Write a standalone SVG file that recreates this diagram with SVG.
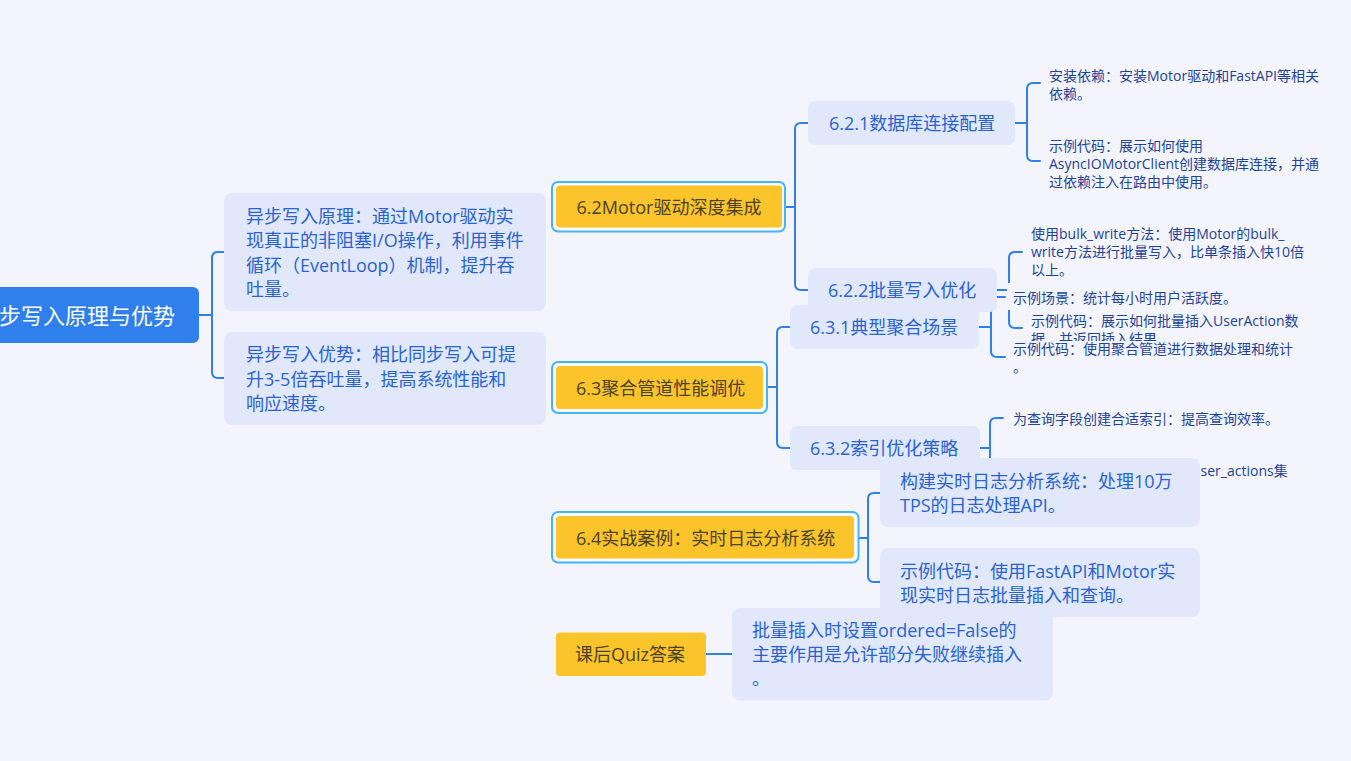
<svg xmlns="http://www.w3.org/2000/svg" width="1351" height="761" viewBox="0 0 1351 761">
<style>
text{font-family:"Open Sans","Noto Sans CJK SC","Noto Sans",sans-serif;dominant-baseline:central}
.con{fill:none;stroke:#2f80ed;stroke-width:2;stroke-linecap:round}
.root{fill:#2f80ec}
.rt{fill:#ffffff;font-size:22px}
.box{fill:#e1e8fc}
.bt{fill:#2a63d0;font-size:18px}
.out{fill:#f7fbff;stroke:#45b4f3;stroke-width:2}
.yel{fill:#fcc42b}
.yt{fill:#4b4228;font-size:18px}
.leafbg{fill:#f4f5fc}
.lt{fill:#22439a;font-size:14px}
</style>
<rect x="0" y="0" width="1351" height="761" fill="#f4f5fc"/>
<g id="connectors">
<path class="con" d="M199 315H212M224 252H218Q212 252 212 258V372Q212 378 218 378H224"/>
<path class="con" d="M786 207H795M808 123H801Q795 123 795 129V284Q795 290 801 290H808"/>
<path class="con" d="M1015 123H1027M1040 83H1033Q1027 83 1027 89V155Q1027 161 1033 161H1040"/>
<path class="con" d="M997 290H1009M1022 252H1015Q1009 252 1009 258V322Q1009 328 1015 328H1022"/>
<path class="con" d="M768 387H777M790 327H783Q777 327 777 333V442Q777 448 783 448H790"/>
<path class="con" d="M979 327H991M1005 297H997Q991 297 991 303V351Q991 357 997 357H1005"/>
<path class="con" d="M980 448H990M1003 418H996Q990 418 990 424V472Q990 478 996 478H1003"/>
<path class="con" d="M859 538H868M880 493H874Q868 493 868 499V576Q868 582 874 582H880"/>
<path class="con" d="M706 654H732"/>
</g>
<g id="root">
<rect class="root" x="-20" y="287" width="219" height="56" rx="6"/>
<text class="rt" x="175" y="315" text-anchor="end">异步写入原理与优势</text>
</g>
<g id="n-principle">
<rect class="box" x="224" y="193" width="322" height="118" rx="8"/>
<text class="bt" x="246" y="215.5">异步写入原理：通过Motor驱动实</text>
<text class="bt" x="246" y="240">现真正的非阻塞I/O操作，利用事件</text>
<text class="bt" x="246" y="264.5">循环（EventLoop）机制，提升吞</text>
<text class="bt" x="246" y="289">吐量。</text>
</g>
<g id="n-advantage">
<rect class="box" x="224" y="332" width="322" height="93" rx="8"/>
<text class="bt" x="246" y="354">异步写入优势：相比同步写入可提</text>
<text class="bt" x="246" y="378.5">升3-5倍吞吐量，提高系统性能和</text>
<text class="bt" x="246" y="403">响应速度。</text>
</g>
<g id="n-6-2">
<rect class="out" x="552" y="182" width="233" height="49.5" rx="6"/>
<rect class="yel" x="556" y="185.5" width="226" height="42" rx="4"/>
<text class="yt" x="669" y="207" text-anchor="middle">6.2Motor驱动深度集成</text>
</g>
<g id="n-6-2-1">
<rect class="box" x="808" y="101" width="207" height="44" rx="7"/>
<text class="bt" x="829" y="123">6.2.1数据库连接配置</text>
</g>
<g id="l-6-2-1-a">
<rect class="leafbg" x="1043" y="64" width="290" height="40"/>
<text class="lt" x="1049" y="75">安装依赖：安装Motor驱动和FastAPI等相关</text>
<text class="lt" x="1049" y="93">依赖。</text>
</g>
<g id="l-6-2-1-b">
<rect class="leafbg" x="1043" y="134" width="290" height="58"/>
<text class="lt" x="1049" y="145">示例代码：展示如何使用</text>
<text class="lt" x="1049" y="163">AsyncIOMotorClient创建数据库连接，并通</text>
<text class="lt" x="1049" y="181">过依赖注入在路由中使用。</text>
</g>
<g id="n-6-2-2">
<rect class="box" x="808" y="268" width="189" height="44" rx="7"/>
<text class="bt" x="828" y="290">6.2.2批量写入优化</text>
</g>
<g id="l-6-2-2-a">
<text class="lt" x="1031" y="233">使用bulk_write方法：使用Motor的bulk_</text>
<text class="lt" x="1031" y="251">write方法进行批量写入，比单条插入快10倍</text>
<text class="lt" x="1031" y="269">以上。</text>
</g>
<g id="l-6-2-2-b">
<text class="lt" x="1031" y="320">示例代码：展示如何批量插入UserAction数</text>
<text class="lt" x="1031" y="338">据，并返回插入结果。</text>
</g>
<g id="n-6-3">
<rect class="out" x="552" y="362" width="215" height="51" rx="6"/>
<rect class="yel" x="556" y="366" width="207" height="43" rx="4"/>
<text class="yt" x="576" y="387.5">6.3聚合管道性能调优</text>
</g>
<g id="n-6-3-1">
<rect class="box" x="790" y="305" width="189" height="44" rx="7"/>
<text class="bt" x="810" y="327">6.3.1典型聚合场景</text>
</g>
<g id="l-6-3-1-a">
<rect class="leafbg" x="1007" y="283" width="240" height="27"/>
<text class="lt" x="1013" y="297">示例场景：统计每小时用户活跃度。</text>
</g>
<g id="l-6-3-1-b">
<rect class="leafbg" x="1007" y="341" width="295" height="35"/>
<text class="lt" x="1013" y="348">示例代码：使用聚合管道进行数据处理和统计</text>
<text class="lt" x="1013" y="366">。</text>
</g>
<g id="n-6-3-2">
<rect class="box" x="790" y="426" width="190" height="44" rx="7"/>
<text class="bt" x="810" y="448">6.3.2索引优化策略</text>
</g>
<g id="l-6-3-2-a">
<text class="lt" x="1013" y="418">为查询字段创建合适索引：提高查询效率。</text>
</g>
<g id="l-6-3-2-b">
<text class="lt" x="1192" y="470">user_actions集</text>
</g>
<g id="n-6-4">
<rect class="out" x="552" y="512" width="306.5" height="50.5" rx="6"/>
<rect class="yel" x="556" y="516" width="298" height="42.5" rx="4"/>
<text class="yt" x="576" y="538">6.4实战案例：实时日志分析系统</text>
</g>
<g id="n-6-4-a">
<rect class="box" x="880" y="458" width="320" height="69" rx="8"/>
<text class="bt" x="900" y="481">构建实时日志分析系统：处理10万</text>
<text class="bt" x="900" y="505">TPS的日志处理API。</text>
</g>
<g id="n-6-4-b">
<rect class="box" x="880" y="548" width="320" height="69" rx="8"/>
<text class="bt" x="900" y="571">示例代码：使用FastAPI和Motor实</text>
<text class="bt" x="900" y="595">现实时日志批量插入和查询。</text>
</g>
<g id="n-quiz">
<rect class="yel" x="556" y="632.5" width="150" height="43.5" rx="4"/>
<text class="yt" x="575" y="654">课后Quiz答案</text>
</g>
<g id="n-quiz-answer">
<rect class="box" x="732" y="608" width="321" height="92.5" rx="8"/>
<text class="bt" x="752" y="630">批量插入时设置ordered=False的</text>
<text class="bt" x="752" y="654">主要作用是允许部分失败继续插入</text>
<text class="bt" x="752" y="678">。</text>
</g>
</svg>
